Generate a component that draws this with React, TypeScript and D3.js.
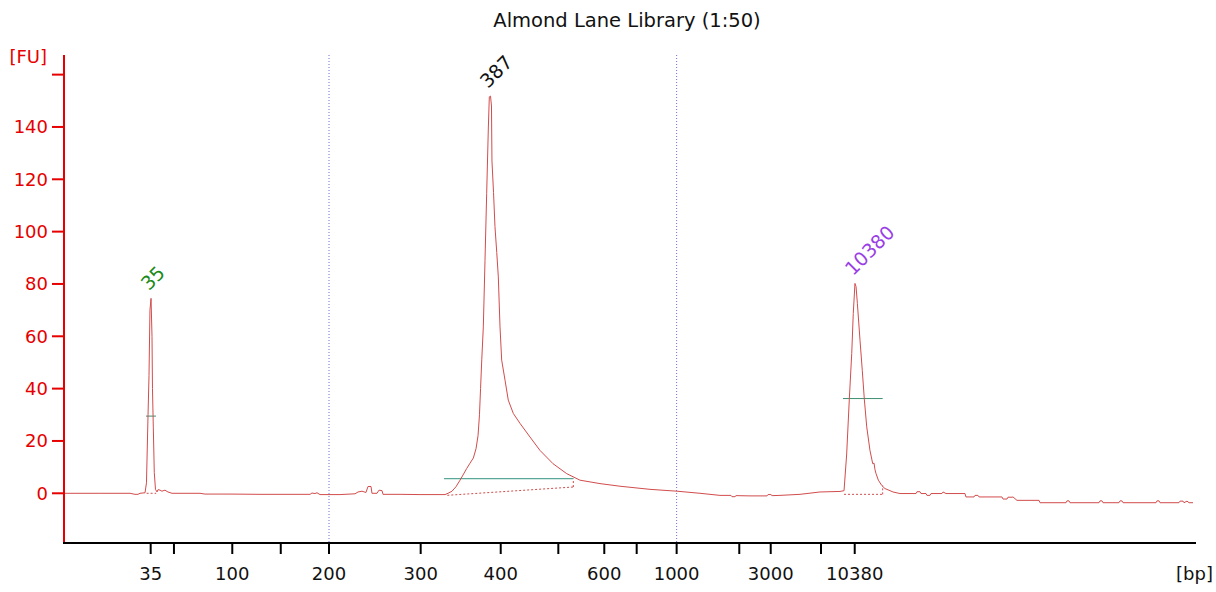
import React from "react";
import * as d3 from "d3";

const title = "Almond Lane Library (1:50)";

// Ladder: fragment sizes (bp) and their migration times (s)
const ladderSizes = [35, 50, 100, 150, 200, 300, 400, 500, 600, 700, 1000, 2000, 3000, 7000, 10380];
const ladderTimes = [47.14, 49.08, 53.94, 57.98, 62.0, 69.64, 76.31, 81.11, 84.94, 87.64, 90.97, 96.19, 98.81, 103.0, 105.81];
const labeledSizes = [35, 100, 200, 300, 400, 600, 1000, 3000, 10380];
const gridSizes = [200, 1000];

const yTicks = [0, 20, 40, 60, 80, 100, 120, 140, 160];
const yTickLabels = [0, 20, 40, 60, 80, 100, 120, 140];

// Electropherogram trace: [time (s), fluorescence (FU)]
const trace: [number, number][] = [
  [40.0, 0], [42.92, 0], [45.42, 0], [45.83, -0.4], [46.08, -0.4], [46.25, 0], [46.67, 0.2],
  [46.79, 4], [46.92, 30], [47.0, 45], [47.08, 70], [47.17, 74.5], [47.25, 60], [47.29, 40],
  [47.36, 25], [47.44, 8], [47.54, 1.5], [47.67, 0.5], [47.75, 1.4], [47.92, 1.2], [48.08, 0.8],
  [48.33, 1.2], [48.58, 0.5], [48.92, 0], [51.25, 0], [51.67, -0.3], [53.75, -0.3], [56.25, -0.4],
  [58.75, -0.4], [60.42, -0.4], [60.58, 0.1], [60.83, -0.1], [61.0, 0.2], [61.25, -0.5],
  [62.92, -0.5], [64.17, -0.2], [64.42, 0.5], [64.75, 0.8], [65.08, 0.3], [65.25, 2.6],
  [65.5, 2.6], [65.58, 0], [66.0, 0], [66.17, 1.2], [66.42, 1.0], [66.5, -0.4], [67.92, -0.4],
  [69.58, -0.5], [71.67, -0.5], [71.92, 0], [72.25, 0.8], [72.58, 2.5], [72.92, 5], [73.17, 7],
  [73.48, 9.5], [73.75, 11.5], [74.03, 13.5], [74.25, 17], [74.42, 22], [74.54, 30], [74.63, 40],
  [74.73, 51], [74.86, 63.6], [75.0, 89], [75.14, 114.6], [75.28, 140], [75.36, 151.5],
  [75.46, 151.8], [75.54, 148], [75.58, 127], [75.71, 115], [75.83, 102], [75.98, 92],
  [76.11, 82.7], [76.25, 63.6], [76.39, 50.9], [76.67, 43.2], [76.94, 35.6], [77.36, 30.5],
  [77.92, 26.7], [78.75, 21.5], [79.58, 16.4], [80.67, 11.3], [81.81, 7.5], [82.92, 5],
  [84.58, 3.7], [86.25, 2.7], [88.75, 1.5], [91.0, 0.8], [92.92, 0], [94.58, -0.8], [95.5, -0.8],
  [95.58, -1.3], [95.83, -1.3], [95.92, -0.9], [97.08, -1], [98.5, -1], [98.58, -0.5], [98.83, -0.5],
  [98.92, -0.9], [99.58, -0.8], [101.25, -0.4], [102.92, 0.5], [104.58, 0.7], [104.92, 1],
  [105.14, 15], [105.36, 36], [105.56, 53.4], [105.69, 68.7], [105.83, 80.2], [105.92, 79],
  [106.03, 72.6], [106.25, 58.5], [106.44, 47], [106.61, 36], [106.81, 25.4], [107.08, 16.4],
  [107.31, 11.3], [107.42, 11.5], [107.5, 9], [107.58, 7.6], [107.78, 5], [108.06, 3],
  [108.33, 1.8], [108.75, 1], [109.0, 0.5], [109.58, -0.1], [110.92, -0.1], [111.0, 0.6],
  [111.25, 0.6], [111.33, -0.1], [111.75, -0.1], [111.83, -0.8], [112.08, -0.8], [112.17, -0.1],
  [113.08, -0.1], [113.17, 0.5], [113.42, -0.1], [115.0, -0.1], [115.08, -1.4], [115.75, -1.4],
  [115.83, -0.8], [116.08, -0.8], [116.17, -1.4], [118.08, -1.4], [118.17, -2.2], [118.5, -2.2],
  [118.58, -1.5], [118.92, -1.5], [119.0, -1.4], [119.33, -2.7], [121.17, -2.7], [121.25, -3.6],
  [123.42, -3.6], [123.5, -2.9], [123.67, -2.9], [123.75, -3.6], [126.17, -3.6], [126.25, -2.9],
  [126.42, -2.9], [126.5, -3.6], [127.83, -3.6], [127.92, -2.9], [128.08, -2.9], [128.17, -3.6],
  [130.92, -3.6], [131.0, -2.9], [131.17, -2.9], [131.25, -3.6], [132.83, -3.6], [132.92, -3.0],
  [133.17, -3.0], [133.25, -3.6], [133.5, -3.0], [133.67, -3.6], [134.0, -3.6]
];

// Peak annotations
const peakLabels = ["35", "387", "10380"];
const peakTimes = [47.17, 75.42, 105.83];
const peakHeights = [74.5, 151.8, 80.2];

// Half-height markers: [start time, end time, FU]
const halfMarkers: [number, number, number][] = [
  [46.75, 47.58, 29.5],
  [104.83, 108.14, 36.2],
];
// Region (smear) marker: [start time, end time, FU]
const regionMarker: [number, number, number] = [71.58, 82.36, 5.6];
// Dotted baselines: [t0, fu0, t1, fu1, top FU at end]
const peakBaselines: [number, number, number, number, number][] = [
  [46.8, 0, 47.6, 0, 0],
  [71.86, -0.77, 82.36, 2.4, 5.6],
  [104.92, -0.4, 108.14, -0.4, 3],
];

const W = 1216;
const H = 592;
const font = "'DejaVu Sans', Verdana, sans-serif";
const axisRed = "#e60000";
const traceColor = "#d24c4c";
const labelColors = ["#1a8a1a", "#111111", "#9a3ee6"];

export default function App() {
  const x = d3.scaleLinear().domain([40, 134.25]).range([65, 1196]);
  const y = d3.scaleLinear().domain([-19, 167.5]).range([543, 55]);
  const line = d3
    .line<[number, number]>()
    .x((d) => x(d[0]))
    .y((d) => y(d[1]));
  const timeOf = (s: number) => ladderTimes[ladderSizes.indexOf(s)];
  const axisX = 64;
  const axisY = 543;

  return (
    <svg width={W} height={H} style={{ position: "absolute", left: 0, top: 0, background: "#fff" }}>
      <text x={627} y={27} textAnchor="middle" fontFamily={font} fontSize={19.5} fill="#111">
        {title}
      </text>

      {/* dotted grid at 200 & 1000 bp */}
      {gridSizes.map((s) => (
        <line
          key={"g" + s}
          x1={x(timeOf(s))}
          x2={x(timeOf(s))}
          y1={55}
          y2={axisY - 1}
          stroke="#6f6fd6"
          strokeWidth={1}
          strokeDasharray="1 2"
        />
      ))}

      {/* markers */}
      {halfMarkers.map((m, i) => (
        <line key={"h" + i} x1={x(m[0])} x2={x(m[1])} y1={y(m[2])} y2={y(m[2])} stroke="#3d8f70" strokeWidth={1} />
      ))}
      <line
        x1={x(regionMarker[0])}
        x2={x(regionMarker[1])}
        y1={y(regionMarker[2])}
        y2={y(regionMarker[2])}
        stroke="#5aa898"
        strokeWidth={1.2}
      />
      {peakBaselines.map((b, i) => (
        <g key={"b" + i}>
          <line x1={x(b[0])} y1={y(b[1])} x2={x(b[2])} y2={y(b[3])} stroke={traceColor} strokeWidth={1} strokeDasharray="2 2" />
          {b[4] !== b[3] && (
            <line x1={x(b[2])} y1={y(b[3])} x2={x(b[2])} y2={y(b[4])} stroke={traceColor} strokeWidth={1} strokeDasharray="2 2" />
          )}
        </g>
      ))}

      {/* trace */}
      <path d={line(trace) || ""} fill="none" stroke={traceColor} strokeWidth={1} strokeLinejoin="round" />

      {/* peak labels */}
      {peakLabels.map((t, i) => {
        const px = x(peakTimes[i]) - 2;
        const py = y(peakHeights[i]) - 7;
        return (
          <text
            key={"p" + i}
            x={px}
            y={py}
            transform={`rotate(-45 ${px} ${py})`}
            fontFamily={font}
            fontSize={19}
            fill={labelColors[i]}
          >
            {t}
          </text>
        );
      })}

      {/* y axis */}
      <line x1={axisX} x2={axisX} y1={55} y2={axisY} stroke={axisRed} strokeWidth={2} />
      {yTicks.map((v) => (
        <line key={"yt" + v} x1={52} x2={axisX} y1={y(v)} y2={y(v)} stroke={axisRed} strokeWidth={2} />
      ))}
      {yTickLabels.map((v) => (
        <text key={"yl" + v} x={48} y={y(v)} dy="0.36em" textAnchor="end" fontFamily={font} fontSize={18} fill={axisRed}>
          {v}
        </text>
      ))}
      <text x={47} y={63} textAnchor="end" fontFamily={font} fontSize={18} fill={axisRed}>
        [FU]
      </text>

      {/* x axis */}
      <line x1={axisX - 1} x2={1196} y1={axisY} y2={axisY} stroke="#000" strokeWidth={2} />
      {ladderSizes.map((s) => (
        <line key={"xt" + s} x1={x(timeOf(s))} x2={x(timeOf(s))} y1={axisY} y2={axisY + 11} stroke="#000" strokeWidth={2} />
      ))}
      {labeledSizes.map((s) => (
        <text key={"xl" + s} x={x(timeOf(s))} y={580} textAnchor="middle" fontFamily={font} fontSize={18} fill="#111">
          {s}
        </text>
      ))}
      <text x={1213} y={580} textAnchor="end" fontFamily={font} fontSize={18} fill="#111">
        [bp]
      </text>
    </svg>
  );
}
